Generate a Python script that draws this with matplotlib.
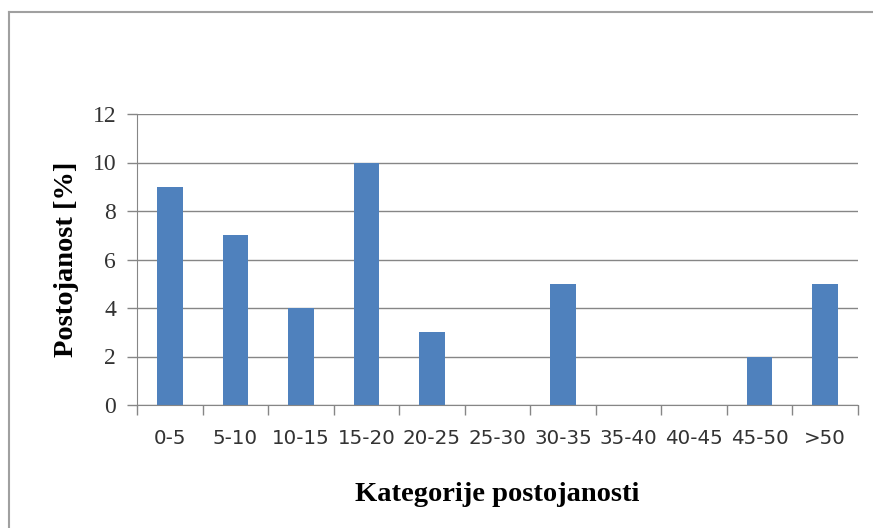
import matplotlib.pyplot as plt
from matplotlib.lines import Line2D
import numpy as np

categories = ['0-5', '5-10', '10-15', '15-20', '20-25', '25-30',
              '30-35', '35-40', '40-45', '45-50', '>50']
values = [9, 7, 4, 10, 3, 0, 5, 0, 0, 2, 5]
yticks = [0, 2, 4, 6, 8, 10, 12]

fig = plt.figure(figsize=(8.73, 5.28), dpi=100)
ax = fig.add_axes([137 / 873, 1 - 405 / 528, (858 - 137) / 873, (405 - 114) / 528])

x = np.arange(len(categories))
ax.bar(x, values, width=0.39, color='#4F81BD', zorder=3)

ax.set_xlim(-0.5, len(categories) - 0.5)
ax.set_ylim(0, 12)
ax.set_yticks(yticks)
ax.set_yticklabels([str(v) for v in yticks], family='Liberation Serif',
                   fontsize=17, color='#333333')
ax.set_xticks(x)
ax.set_xticklabels(categories, family='DejaVu Sans', fontsize=14.3,
                   color='#333333')
ax.set_xticks(np.arange(len(categories) + 1) - 0.5, minor=True)
ax.tick_params(axis='x', which='major', length=0, pad=17)
ax.tick_params(axis='x', which='minor', length=7, color='#868686', width=1)
ax.tick_params(axis='y', length=7, color='#868686', width=1, pad=8)

ax.grid(axis='y', color='#868686', linewidth=1, zorder=0)
for s in ['top', 'right']:
    ax.spines[s].set_visible(False)
for s in ['left', 'bottom']:
    ax.spines[s].set_color('#868686')
    ax.spines[s].set_zorder(4)

ax.set_ylabel('Postojanost [%]', family='Liberation Serif', fontweight='bold',
              fontsize=20.5, labelpad=10)
ax.set_xlabel('Kategorije postojanosti', family='Liberation Serif',
              fontweight='bold', fontsize=20.5, labelpad=25)

# outer chart frame
fig.add_artist(Line2D([9 / 873, 9 / 873], [0, 1 - 12 / 528],
                      transform=fig.transFigure, color='#a0a0a0', lw=1.5))
fig.add_artist(Line2D([9 / 873, 1], [1 - 12 / 528, 1 - 12 / 528],
                      transform=fig.transFigure, color='#a0a0a0', lw=1.5))

fig.savefig('out.png', dpi=100)
